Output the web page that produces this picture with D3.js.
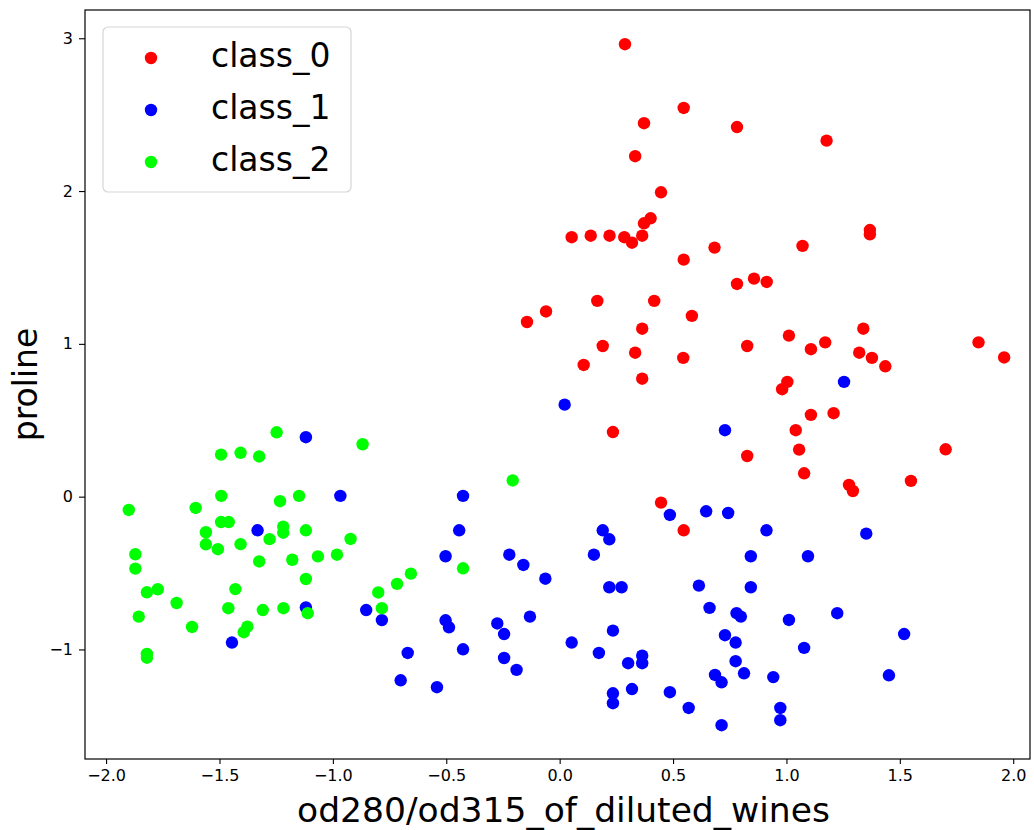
<!DOCTYPE html>
<html>
<head>
<meta charset="utf-8">
<script src="https://cdn.jsdelivr.net/npm/d3@7"></script>
<style>
  html, body { margin: 0; padding: 0; background: #ffffff; }
  svg { display: block; font-family: "DejaVu Sans", sans-serif; }
</style>
</head>
<body>
<svg id="chart" width="1034" height="830"></svg>
<script>
// Standardised wine features: od280/od315_of_diluted_wines (x) vs proline (y)
const classNames = ["class_0", "class_1", "class_2"];
const classColors = ["#ff0000", "#0000ff", "#00ff00"];

const class0X = [0.288, 0.547, 0.372, 0.782, 1.177, 0.333, 0.447, 0.401, 0.372, 0.053,
  0.137, 0.220, 0.285, 0.319, 0.364, 1.368, 1.368, 1.071, 0.683, 0.547,
  0.857, 0.913, 0.782, 0.166, 0.417, 0.583, -0.060, -0.144, 0.364, 0.190,
  0.333, 0.545, 0.106, 0.364, 0.827, 1.011, 1.108, 1.171, 1.339, 1.321,
  1.377, 1.436, 1.847, 1.960, 1.004, 0.981, 1.108, 1.208, 1.041, 1.056,
  1.078, 1.276, 1.293, 1.702, 1.549, 0.235, 0.827, 0.447, 0.547];
const class0Y = [2.961, 2.544, 2.444, 2.419, 2.330, 2.228, 1.992, 1.822, 1.789, 1.698,
  1.708, 1.708, 1.698, 1.662, 1.708, 1.745, 1.717, 1.641, 1.630, 1.551,
  1.427, 1.405, 1.392, 1.281, 1.281, 1.183, 1.212, 1.143, 1.099, 0.986,
  0.942, 0.908, 0.862, 0.772, 0.986, 1.054, 0.965, 1.010, 1.099, 0.942,
  0.908, 0.853, 1.010, 0.911, 0.751, 0.703, 0.535, 0.546, 0.435, 0.308,
  0.153, 0.077, 0.037, 0.310, 0.103, 0.423, 0.266, -0.039, -0.220];

const class1X = [-1.119, -0.967, -1.332, -1.119, -0.853, -0.784, -1.445, -0.426, -0.443, -0.503,
  -0.222, -0.160, -0.063, -0.503, -0.488, -0.275, -0.245, -0.131, -0.670, -0.426,
  -0.245, -0.190, -0.701, -0.541, 0.486, 0.646, 0.743, 0.912, 0.190, 0.219,
  0.151, 0.843, 0.219, 0.273, 0.614, 0.843, 0.661, 0.780, 0.799, 0.235,
  0.053, 0.173, 0.302, 0.364, 0.364, 0.729, 0.776, 0.776, 0.813, 0.685,
  0.714, 0.942, 0.235, 0.235, 0.319, 0.486, 0.569, 0.714, 0.973, 0.973,
  1.352, 1.095, 1.011, 1.224, 1.519, 1.078, 1.452, 1.254, 0.022, 0.729];
const class1Y = [0.389, 0.005, -0.220, -0.725, -0.742, -0.808, -0.955, 0.005, -0.220, -0.390,
  -0.380, -0.447, -0.537, -0.809, -0.855, -0.830, -0.899, -0.785, -1.023, -0.999,
  -1.056, -1.134, -1.202, -1.247, -0.120, -0.096, -0.107, -0.220, -0.220, -0.279,
  -0.380, -0.390, -0.593, -0.593, -0.582, -0.593, -0.728, -0.763, -0.785, -0.877,
  -0.955, -1.023, -1.090, -1.041, -1.090, -0.907, -0.955, -1.077, -1.156, -1.167,
  -1.215, -1.181, -1.287, -1.352, -1.259, -1.280, -1.383, -1.496, -1.383, -1.463,
  -0.242, -0.390, -0.807, -0.763, -0.899, -0.990, -1.169, 0.751, 0.602, 0.435];

const class2X = [-1.248, -1.493, -1.407, -1.325, -0.869, -1.492, -1.900, -1.605, -1.233, -1.149,
  -1.493, -1.459, -1.560, -1.219, -1.219, -1.119, -1.279, -1.560, -1.507, -1.407,
  -0.922, -1.871, -1.871, -1.325, -1.179, -1.066, -0.982, -1.119, -1.820, -1.772,
  -1.430, -1.689, -0.717, -0.800, -0.784, -1.461, -1.309, -1.218, -1.111, -1.856,
  -1.621, -1.377, -1.393, -1.820, -1.820, -0.207, -0.426, -0.656];
const class2Y = [0.421, 0.275, 0.287, 0.263, 0.343, 0.005, -0.087, -0.074, -0.030, 0.005,
  -0.166, -0.166, -0.233, -0.196, -0.236, -0.220, -0.278, -0.312, -0.344, -0.311,
  -0.277, -0.377, -0.471, -0.424, -0.413, -0.391, -0.380, -0.539, -0.626, -0.606,
  -0.605, -0.696, -0.571, -0.627, -0.730, -0.730, -0.742, -0.730, -0.763, -0.785,
  -0.853, -0.851, -0.887, -1.029, -1.054, 0.106, -0.469, -0.504];

const xTicks = [-2.0, -1.5, -1.0, -0.5, 0.0, 0.5, 1.0, 1.5, 2.0];
const yTicks = [-1, 0, 1, 2, 3];
const xDomain = [-2.093, 2.074];
const yDomain = [-1.717, 3.185];

const xLabel = "od280/od315_of_diluted_wines";
const yLabel = "proline";

// Layout
const svg = d3.select("#chart");
const plot = { left: 85, top: 10, right: 1030, bottom: 759 };

const x = d3.scaleLinear().domain(xDomain).range([plot.left, plot.right]);
const y = d3.scaleLinear().domain(yDomain).range([plot.bottom, plot.top]);

const minusFmt = f => (v => f(v).replace("-", "\u2212"));

// Points, one group per class, drawn in class order
const series = [
  { xs: class0X, ys: class0Y },
  { xs: class1X, ys: class1Y },
  { xs: class2X, ys: class2Y }
];

const pointsLayer = svg.append("g");
series.forEach((s, i) => {
  const pts = s.xs.map((v, j) => [v, s.ys[j]]);
  pointsLayer.append("g")
    .selectAll("circle")
    .data(pts)
    .join("circle")
    .attr("cx", d => x(d[0]))
    .attr("cy", d => y(d[1]))
    .attr("r", 6.2)
    .attr("fill", classColors[i]);
});

// Axes
const xAxis = d3.axisBottom(x)
  .tickValues(xTicks)
  .tickFormat(minusFmt(d3.format(".1f")))
  .tickSizeInner(5).tickSizeOuter(0).tickPadding(6);
const yAxis = d3.axisLeft(y)
  .tickValues(yTicks)
  .tickFormat(minusFmt(d3.format("d")))
  .tickSizeInner(6).tickSizeOuter(0).tickPadding(6);

const gx = svg.append("g").attr("transform", `translate(0,${plot.bottom})`).call(xAxis);
const gy = svg.append("g").attr("transform", `translate(${plot.left},0)`).call(yAxis);
[gx, gy].forEach(g => {
  g.select(".domain").remove();
  g.selectAll(".tick line").attr("stroke", "#000").attr("stroke-width", 1.1);
  g.selectAll(".tick text").attr("fill", "#000")
    .style("font-family", "'DejaVu Sans', sans-serif").style("font-size", "16px");
});

// Frame
svg.append("rect")
  .attr("x", plot.left).attr("y", plot.top)
  .attr("width", plot.right - plot.left).attr("height", plot.bottom - plot.top)
  .attr("fill", "none").attr("stroke", "#000").attr("stroke-width", 1.2);

// Axis titles
svg.append("text")
  .attr("x", (plot.left + plot.right) / 2 + 6).attr("y", 822)
  .attr("text-anchor", "middle")
  .style("font-size", "34.5px").attr("fill", "#000")
  .text(xLabel);

svg.append("text")
  .attr("transform", `translate(37,${(plot.top + plot.bottom) / 2}) rotate(-90)`)
  .attr("text-anchor", "middle")
  .style("font-size", "33px").attr("fill", "#000")
  .text(yLabel);

// Legend
const legend = svg.append("g");
legend.append("rect")
  .attr("x", 103).attr("y", 27).attr("width", 248).attr("height", 165)
  .attr("rx", 5).attr("ry", 5)
  .attr("fill", "#ffffff").attr("fill-opacity", 0.8)
  .attr("stroke", "#d5d5d5").attr("stroke-width", 1.2);
classNames.forEach((name, i) => {
  const cy = 58 + i * 52;
  legend.append("circle").attr("cx", 151).attr("cy", cy).attr("r", 6.2).attr("fill", classColors[i]);
  legend.append("text").attr("x", 211).attr("y", cy + 9)
    .style("font-size", "33px").attr("fill", "#000").text(name);
});
</script>
</body>
</html>
